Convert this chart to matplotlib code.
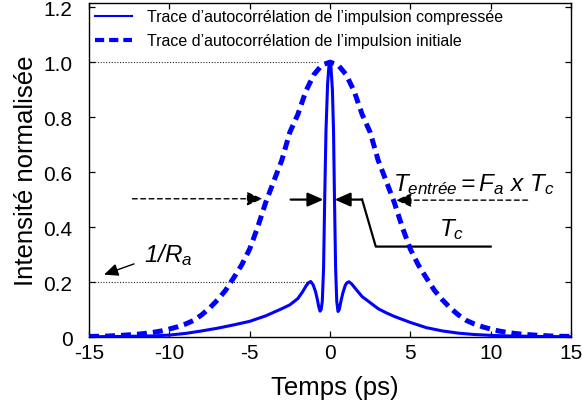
import matplotlib
matplotlib.use("Agg")
import matplotlib.pyplot as plt
from matplotlib.lines import Line2D
from matplotlib import font_manager

# autocorrelation of the initial pulse (symmetric)
t_init = [-15, -14, -13, -12.5, -12, -11.5, -11, -10.5, -10, -9.5, -9, -8.5, -8, -7.5, -7,
          -6.5, -6, -5.5, -5, -4.5, -4, -3.5, -3, -2.5, -2, -1.5, -1, -0.5, 0,
          0.5, 1, 1.5, 2, 2.5, 3, 3.5, 4, 4.5, 5, 5.5, 6, 6.5, 7, 7.5, 8, 8.5,
          9, 9.5, 10, 10.5, 11, 11.5, 12, 12.5, 13, 14, 15]
i_init = [0.002, 0.003, 0.006, 0.008, 0.010, 0.013, 0.017, 0.022, 0.029, 0.037, 0.047, 0.060,
          0.080, 0.105, 0.135, 0.170, 0.215, 0.262, 0.320, 0.400, 0.490, 0.567, 0.643, 0.745,
          0.810, 0.895, 0.955, 0.990, 1.000,
          0.990, 0.955, 0.895, 0.810, 0.745, 0.643, 0.567, 0.490, 0.400, 0.320, 0.262, 0.215,
          0.170, 0.135, 0.105, 0.080, 0.060, 0.047, 0.037, 0.029, 0.022, 0.017, 0.013, 0.010,
          0.008, 0.006, 0.003, 0.002]

# autocorrelation of the compressed pulse
t_comp = [-15, -13, -11, -10, -9, -8, -7, -6, -5, -4, -3.5, -3, -2.5, -2, -1.7, -1.5, -1.35,
          -1.2, -1.05, -0.9, -0.8, -0.7, -0.62, -0.55, -0.48, -0.4, -0.33, -0.25, -0.15, -0.05,
          0.05, 0.15, 0.22, 0.28, 0.35, 0.42, 0.5, 0.58, 0.68, 0.8, 0.95, 1.05, 1.18, 1.35, 1.6,
          2, 2.5, 3, 3.5, 4, 5, 6, 7, 8, 9, 10, 11, 13, 15]
i_comp = [0.001, 0.002, 0.004, 0.007, 0.013, 0.022, 0.032, 0.044, 0.057, 0.077, 0.090, 0.103,
          0.117, 0.140, 0.165, 0.185, 0.197, 0.202, 0.190, 0.165, 0.140, 0.110, 0.094, 0.100,
          0.130, 0.250, 0.500, 0.750, 0.920, 1.000,
          0.990, 0.900, 0.750, 0.500, 0.250, 0.130, 0.093, 0.100, 0.130, 0.160, 0.188, 0.197,
          0.201, 0.193, 0.175, 0.147, 0.125, 0.103, 0.088, 0.075, 0.053, 0.034, 0.022, 0.014,
          0.009, 0.006, 0.004, 0.002, 0.001]

x_ticks = [-15, -10, -5, 0, 5, 10, 15]
x_labels = ["-15", "-10", "-5", "0", "5", "10", "15"]
y_ticks = [0, 0.2, 0.4, 0.6, 0.8, 1.0, 1.2]
y_labels = ["0", "0.2", "0.4", "0.6", "0.8", "1.0", "1.2"]

legend_labels = ["Trace d’autocorrélation de l’impulsion compressée",
                 "Trace d’autocorrélation de l’impulsion initiale"]

names = {f.name for f in font_manager.fontManager.ttflist}
narrow = "Liberation Sans Narrow" if "Liberation Sans Narrow" in names else "Liberation Sans"

plt.rcParams["font.family"] = ["Liberation Sans", "DejaVu Sans"]
plt.rcParams["axes.unicode_minus"] = False
plt.rcParams["mathtext.fontset"] = "custom"
plt.rcParams["mathtext.rm"] = "Liberation Sans:italic"
plt.rcParams["mathtext.it"] = "Liberation Sans:italic"
plt.rcParams["mathtext.sf"] = "Liberation Sans"

blue = "#0000ff"
fig = plt.figure(figsize=(5.82, 4.10), dpi=100)
ax = fig.add_axes([0.153, 0.1756, 0.828, 0.8144])

ax.plot(t_comp, i_comp, color=blue, lw=2.2, zorder=3)
dash, = ax.plot(t_init, i_init, color=blue, lw=3.6, zorder=3)
dash.set_dashes((2.0, 1.2))

ax.set_xlim(-15, 15)
ax.set_ylim(0, 1.215)
ax.set_xticks(x_ticks)
ax.set_xticklabels(x_labels)
ax.set_yticks(y_ticks)
ax.set_yticklabels(y_labels)
ax.tick_params(direction="in", top=True, right=True, length=4, width=0.9, labelsize=15)
ax.tick_params(axis="y", pad=12)
ax.tick_params(axis="x", pad=4)
for s in ax.spines.values():
    s.set_linewidth(1.0)

ax.set_xlabel("Temps (ps)", fontsize=18.5)
ax.set_ylabel("Intensité normalisée", fontsize=18.5)
ax.xaxis.set_label_coords(0.51, -0.115)
ax.yaxis.set_label_coords(-0.105, 0.5)

# dotted guide lines
ax.plot([-15, -0.7], [1.0, 1.0], color="0.15", lw=0.8, ls=(0, (1, 1.5)))
ax.plot([-15, -1.4], [0.2, 0.2], color="0.15", lw=0.8, ls=(0, (1, 1.5)))

head = "-|>,head_length=0.95,head_width=0.42"
# dashed arrows (input width)
ax.annotate("", xy=(-4.2, 0.503), xytext=(-12.3, 0.503),
            arrowprops=dict(arrowstyle=head, color="k", lw=1.0, ls=(0, (3.5, 2.5)),
                            shrinkA=0, shrinkB=0, mutation_scale=10))
ax.annotate("", xy=(4.1, 0.498), xytext=(12.3, 0.498),
            arrowprops=dict(arrowstyle=head, color="k", lw=1.0, ls=(0, (3.5, 2.5)),
                            shrinkA=0, shrinkB=0, mutation_scale=10))
# solid arrows (compressed width)
ax.annotate("", xy=(-0.41, 0.5), xytext=(-2.45, 0.5),
            arrowprops=dict(arrowstyle=head, color="k", lw=1.6,
                            shrinkA=0, shrinkB=0, mutation_scale=10))
ax.annotate("", xy=(0.29, 0.5), xytext=(2.0, 0.5),
            arrowprops=dict(arrowstyle=head, color="k", lw=1.6,
                            shrinkA=0, shrinkB=0, mutation_scale=10))
ax.plot([2.0, 2.85, 10.0], [0.5, 0.329, 0.329], color="k", lw=1.6)
# 1/Ra arrow
ax.annotate("", xy=(-14.07, 0.227), xytext=(-12.2, 0.266),
            arrowprops=dict(arrowstyle=head, color="k", lw=1.0,
                            shrinkA=0, shrinkB=0, mutation_scale=9))

ax.text(-11.6, 0.278, r"$1/R_a$", fontsize=17.5, va="baseline", ha="left")
ax.text(3.95, 0.533, r"$T_{entrée} = F_a\ x\ T_c$", fontsize=17.5,
        va="baseline", ha="left")
ax.text(6.8, 0.369, r"$T_c$", fontsize=17.5, va="baseline", ha="left")

h1 = Line2D([], [], color=blue, lw=1.5)
h2 = Line2D([], [], color=blue, lw=3.0)
h2.set_dashes((2.2, 1.2))
ax.legend([h1, h2], legend_labels, loc="upper left", bbox_to_anchor=(0.0, 1.0),
          frameon=False, prop={"family": narrow, "size": 11.5}, handlelength=2.3,
          handletextpad=0.9, labelspacing=0.55, borderaxespad=0.1, borderpad=0.3)

fig.savefig("out.png", dpi=100)
